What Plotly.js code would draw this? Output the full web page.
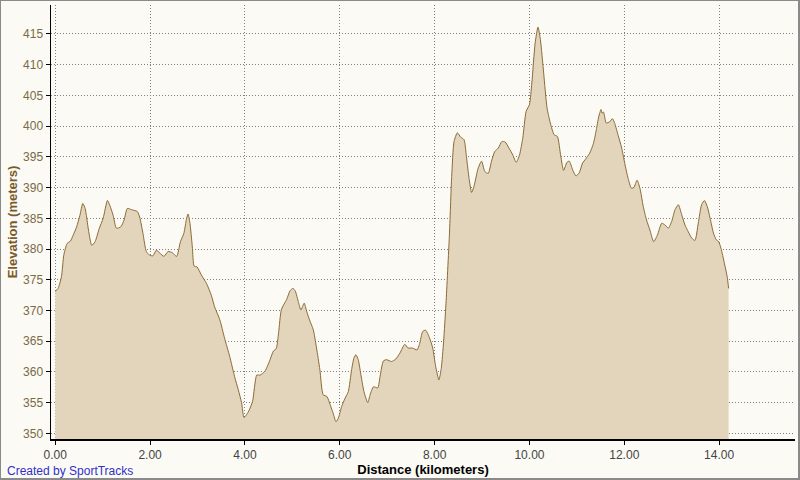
<!DOCTYPE html>
<html>
<head>
<meta charset="utf-8">
<script src="https://cdn.plot.ly/plotly-3.0.1.min.js"></script>
<style>
html,body{margin:0;padding:0;background:#FBFAF5;}
#wrap{position:relative;width:800px;height:480px;}
#chart{position:absolute;left:0;top:0;width:800px;height:480px;}
#frame{position:absolute;left:0;top:0;width:800px;height:480px;box-sizing:border-box;border:1px solid #8a8a8a;border-right:2px solid #8a8a8a;border-bottom:2px solid #8a8a8a;pointer-events:none;}
</style>
</head>
<body>
<div id="wrap"><div id="chart"></div><div id="frame"></div></div>
<script>
const distanceKm = [
 0, 0.06, 0.13, 0.18, 0.25, 0.32, 0.38, 0.45, 0.52, 0.58,
 0.63, 0.70, 0.77, 0.84, 0.93, 1.01, 1.10, 1.15, 1.22, 1.29,
 1.38, 1.45, 1.52, 1.61, 1.73, 1.78, 1.85, 1.92, 1.99, 2.06,
 2.13, 2.20, 2.29, 2.38, 2.47, 2.56, 2.64, 2.71, 2.77, 2.80,
 2.84, 2.89, 2.93, 2.99, 3.08, 3.19, 3.29, 3.36, 3.47, 3.57,
 3.68, 3.78, 3.86, 3.93, 3.98, 4.07, 4.16, 4.25, 4.32, 4.42,
 4.53, 4.60, 4.66, 4.71, 4.77, 4.88, 4.95, 5.01, 5.06, 5.13,
 5.18, 5.25, 5.30, 5.37, 5.44, 5.51, 5.58, 5.65, 5.73, 5.80,
 5.86, 5.92, 5.97, 6.04, 6.11, 6.18, 6.25, 6.30, 6.34, 6.39,
 6.44, 6.51, 6.59, 6.64, 6.71, 6.80, 6.85, 6.92, 6.99, 7.09,
 7.18, 7.27, 7.37, 7.44, 7.53, 7.63, 7.68, 7.75, 7.81, 7.89,
 7.96, 8.02, 8.09, 8.14, 8.19, 8.24, 8.31, 8.36, 8.41, 8.48,
 8.55, 8.62, 8.67, 8.73, 8.78, 8.83, 8.92, 8.99, 9.06, 9.13,
 9.20, 9.27, 9.34, 9.42, 9.49, 9.57, 9.65, 9.72, 9.79, 9.86,
 9.93, 10.00, 10.05, 10.12, 10.18, 10.23, 10.30, 10.37, 10.44, 10.52,
 10.59, 10.66, 10.72, 10.79, 10.84, 10.91, 10.98, 11.05, 11.12, 11.18,
 11.27, 11.35, 11.41, 11.46, 11.51, 11.53, 11.56, 11.62, 11.69, 11.75,
 11.80, 11.87, 11.94, 12.01, 12.08, 12.15, 12.20, 12.27, 12.33, 12.40,
 12.47, 12.54, 12.62, 12.70, 12.79, 12.86, 12.93, 13.00, 13.07, 13.14,
 13.21, 13.28, 13.35, 13.42, 13.49, 13.56, 13.63, 13.69, 13.75, 13.81,
 13.88, 13.94, 13.99, 14.04, 14.11, 14.17, 14.20
];
const elevationM = [
 373.1, 373.6, 375.5, 379.0, 380.9, 381.3, 382.3, 383.6, 385.5, 387.4,
 386.6, 383.1, 380.6, 381.2, 383.4, 385.0, 387.9, 387.1, 385.5, 383.4,
 383.6, 384.7, 386.6, 386.4, 386.1, 385.2, 382.5, 379.6, 379.0, 378.9,
 379.8, 379.4, 378.8, 379.6, 379.4, 378.8, 381.2, 382.5, 385.0, 385.7,
 384.2, 380.4, 377.2, 377.1, 375.8, 374.4, 372.5, 370.6, 368.5, 365.5,
 362.5, 359.3, 357.1, 355.0, 352.6, 353.5, 355.2, 359.5, 359.5, 360.1,
 362.0, 363.4, 363.8, 366.4, 370.2, 371.8, 373.2, 373.6, 373.2, 371.3,
 370.1, 371.2, 369.9, 368.3, 366.9, 363.9, 360.4, 356.3, 356.0, 354.6,
 353.3, 351.9, 352.5, 354.4, 355.7, 356.8, 360.4, 362.3, 362.8, 362.0,
 359.8, 356.8, 355.0, 356.3, 357.6, 357.4, 359.3, 361.8, 362.0, 361.7,
 362.1, 363.1, 364.5, 363.9, 363.9, 363.6, 364.5, 366.6, 366.8, 365.6,
 363.9, 361.0, 358.7, 360.6, 365.0, 371.2, 382.0, 391.8, 397.5, 398.9,
 398.2, 397.8, 395.1, 391.3, 389.2, 390.2, 393.2, 394.3, 392.6, 392.3,
 394.3, 395.9, 396.4, 397.5, 397.4, 396.4, 395.3, 394.1, 395.3, 398.1,
 402.4, 403.5, 407.0, 413.5, 416.1, 414.1, 408.6, 403.0, 400.5, 398.6,
 398.3, 395.1, 392.8, 394.1, 394.3, 392.9, 391.9, 392.4, 394.0, 394.6,
 395.6, 397.2, 399.4, 401.5, 402.7, 402.1, 402.3, 400.5, 400.7, 401.2,
 400.4, 398.5, 396.6, 393.9, 391.5, 389.9, 390.0, 391.2, 389.9, 386.9,
 384.7, 383.1, 381.2, 382.3, 384.2, 383.9, 383.4, 384.5, 386.4, 387.2,
 385.6, 383.9, 382.8, 381.8, 381.4, 384.2, 387.2, 387.9, 386.9, 385.0,
 382.6, 381.5, 381.2, 380.1, 377.7, 375.5, 373.6
];
const xTickVals = [0, 2, 4, 6, 8, 10, 12, 14];
const xTickText = ["0.00", "2.00", "4.00", "6.00", "8.00", "10.00", "12.00", "14.00"];
const yTickVals = [350, 355, 360, 365, 370, 375, 380, 385, 390, 395, 400, 405, 410, 415];
const xTitle = "Distance (kilometers)";
const yTitle = "Elevation (meters)";
const creditText = "Created by SportTracks";

const trace = {
  x: distanceKm,
  y: elevationM,
  type: 'scatter',
  mode: 'lines',
  line: {color: '#8B6B35', width: 1, shape: 'spline', smoothing: 0.6},
  fill: 'tozeroy',
  fillcolor: '#E3D5BC',
  hoverinfo: 'skip'
};

const layout = {
  width: 800, height: 480,
  margin: {l: 51, r: 5, t: 5, b: 41},
  paper_bgcolor: '#FBFAF5',
  plot_bgcolor: '#FBFAF5',
  showlegend: false,
  font: {family: 'Liberation Sans, Arial, sans-serif', size: 12, color: '#333333'},
  xaxis: {
    range: [-0.09, 15.6],
    tickmode: 'array', tickvals: xTickVals, ticktext: xTickText,
    showgrid: true, gridcolor: '#808080', griddash: '1px,2px', gridwidth: 1,
    zeroline: false,
    showline: true, linecolor: '#000000', linewidth: 1.5,
    ticks: 'outside', ticklen: 4, tickcolor: '#000000',
    tickfont: {color: '#444444', size: 12},
    title: {text: xTitle, font: {size: 13, color: '#000000', weight: 'bold'}, standoff: 1}
  },
  yaxis: {
    range: [349.1, 419.7],
    tickmode: 'array', tickvals: yTickVals,
    showgrid: true, gridcolor: '#808080', griddash: '1px,2px', gridwidth: 1,
    zeroline: false,
    showline: true, linecolor: '#000000', linewidth: 1.5,
    ticks: 'outside', ticklen: 4, tickcolor: '#000000',
    tickfont: {color: '#7A6A45', size: 12},
    title: {text: yTitle, font: {size: 13, color: '#7A5A2A', weight: 'bold'}, standoff: 2}
  },
  annotations: [{
    text: creditText, xref: 'paper', yref: 'paper',
    x: -0.062, y: -0.074, xanchor: 'left', yanchor: 'middle',
    showarrow: false, font: {color: '#3030C8', size: 12}
  }]
};

Plotly.newPlot('chart', [trace], layout, {displayModeBar: false, staticPlot: true});
</script>
</body>
</html>
